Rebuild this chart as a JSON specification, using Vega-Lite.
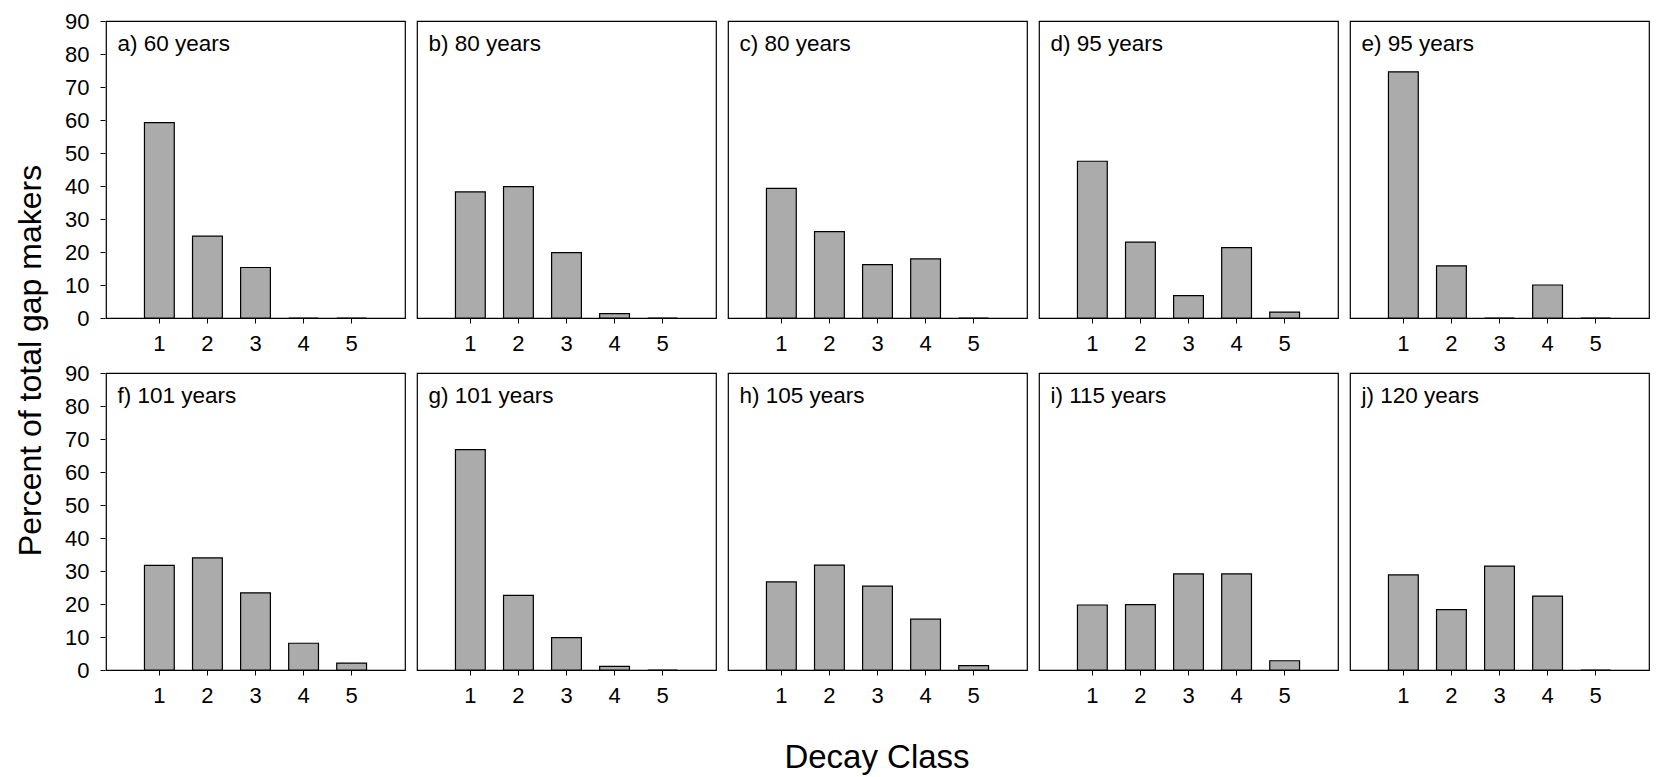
{
  "$schema": "https://vega.github.io/schema/vega-lite/v6.json",
  "background": "white",
  "padding": {"left": 14, "top": 10, "right": 2, "bottom": 1},
  "data": {
    "values": [
      {"panel": "a) 60 years", "decay": "1", "pct": 59.2},
      {"panel": "a) 60 years", "decay": "2", "pct": 24.8},
      {"panel": "a) 60 years", "decay": "3", "pct": 15.3},
      {"panel": "a) 60 years", "decay": "4", "pct": 0},
      {"panel": "a) 60 years", "decay": "5", "pct": 0},
      {"panel": "b) 80 years", "decay": "1", "pct": 38.2},
      {"panel": "b) 80 years", "decay": "2", "pct": 39.8},
      {"panel": "b) 80 years", "decay": "3", "pct": 19.8},
      {"panel": "b) 80 years", "decay": "4", "pct": 1.3},
      {"panel": "b) 80 years", "decay": "5", "pct": 0},
      {"panel": "c) 80 years", "decay": "1", "pct": 39.3},
      {"panel": "c) 80 years", "decay": "2", "pct": 26.2},
      {"panel": "c) 80 years", "decay": "3", "pct": 16.2},
      {"panel": "c) 80 years", "decay": "4", "pct": 17.9},
      {"panel": "c) 80 years", "decay": "5", "pct": 0},
      {"panel": "d) 95 years", "decay": "1", "pct": 47.5},
      {"panel": "d) 95 years", "decay": "2", "pct": 23.0},
      {"panel": "d) 95 years", "decay": "3", "pct": 6.8},
      {"panel": "d) 95 years", "decay": "4", "pct": 21.3},
      {"panel": "d) 95 years", "decay": "5", "pct": 1.8},
      {"panel": "e) 95 years", "decay": "1", "pct": 74.6},
      {"panel": "e) 95 years", "decay": "2", "pct": 15.8},
      {"panel": "e) 95 years", "decay": "3", "pct": 0},
      {"panel": "e) 95 years", "decay": "4", "pct": 10.0},
      {"panel": "e) 95 years", "decay": "5", "pct": 0},
      {"panel": "f) 101 years", "decay": "1", "pct": 31.7},
      {"panel": "f) 101 years", "decay": "2", "pct": 34.0},
      {"panel": "f) 101 years", "decay": "3", "pct": 23.4},
      {"panel": "f) 101 years", "decay": "4", "pct": 8.1},
      {"panel": "f) 101 years", "decay": "5", "pct": 2.1},
      {"panel": "g) 101 years", "decay": "1", "pct": 66.8},
      {"panel": "g) 101 years", "decay": "2", "pct": 22.6},
      {"panel": "g) 101 years", "decay": "3", "pct": 9.8},
      {"panel": "g) 101 years", "decay": "4", "pct": 1.1},
      {"panel": "g) 101 years", "decay": "5", "pct": 0},
      {"panel": "h) 105 years", "decay": "1", "pct": 26.7},
      {"panel": "h) 105 years", "decay": "2", "pct": 31.8},
      {"panel": "h) 105 years", "decay": "3", "pct": 25.4},
      {"panel": "h) 105 years", "decay": "4", "pct": 15.4},
      {"panel": "h) 105 years", "decay": "5", "pct": 1.3},
      {"panel": "i) 115 years", "decay": "1", "pct": 19.7},
      {"panel": "i) 115 years", "decay": "2", "pct": 19.8},
      {"panel": "i) 115 years", "decay": "3", "pct": 29.1},
      {"panel": "i) 115 years", "decay": "4", "pct": 29.1},
      {"panel": "i) 115 years", "decay": "5", "pct": 2.8},
      {"panel": "j) 120 years", "decay": "1", "pct": 28.8},
      {"panel": "j) 120 years", "decay": "2", "pct": 18.3},
      {"panel": "j) 120 years", "decay": "3", "pct": 31.5},
      {"panel": "j) 120 years", "decay": "4", "pct": 22.4},
      {"panel": "j) 120 years", "decay": "5", "pct": 0}
    ]
  },
  "title": {
    "text": "Percent of total gap makers",
    "orient": "left",
    "anchor": "middle",
    "fontSize": 32,
    "fontWeight": "normal",
    "font": "Liberation Sans",
    "color": "black",
    "offset": 17,
    "dx": 32
  },
  "facet": {
    "field": "panel",
    "type": "nominal",
    "title": "Decay Class",
    "header": {
      "labelExpr": "''",
      "labelFontSize": 1,
      "labelPadding": 0,
      "titleOrient": "bottom",
      "titleFontSize": 33,
      "titleFont": "Liberation Sans",
      "titleFontWeight": "normal",
      "titleColor": "black",
      "titlePadding": 35
    }
  },
  "columns": 5,
  "spacing": {"column": 10, "row": 16},
  "spec": {
    "width": 299,
    "height": 297,
    "encoding": {
      "x": {
        "field": "decay",
        "type": "ordinal",
        "scale": {"paddingInner": 0.38, "paddingOuter": 0.8},
        "axis": {"title": null, "labelAngle": 0, "labelPadding": 10}
      },
      "y": {
        "field": "pct",
        "type": "quantitative",
        "scale": {"domain": [0, 90], "nice": false},
        "axis": {"title": null, "values": [0, 10, 20, 30, 40, 50, 60, 70, 80, 90], "labelPadding": 11}
      }
    },
    "layer": [
      {
        "mark": {"type": "bar", "fill": "#ababab", "stroke": "black", "strokeWidth": 1.2}
      },
      {
        "transform": [{"filter": "datum.decay == '1'"}],
        "mark": {
          "type": "text",
          "align": "left",
          "baseline": "top",
          "fontSize": 22.5,
          "font": "Liberation Sans",
          "color": "black",
          "dx": -27,
          "dy": 12
        },
        "encoding": {
          "x": {"datum": "1", "type": "ordinal", "bandPosition": 0},
          "y": {"datum": 90},
          "text": {"field": "panel"}
        }
      }
    ]
  },
  "resolve": {"axis": {"x": "independent"}},
  "config": {
    "font": "Liberation Sans",
    "view": {"stroke": "black", "strokeWidth": 1.2},
    "axis": {
      "domain": false,
      "grid": false,
      "ticks": true,
      "tickColor": "black",
      "tickSize": 5,
      "labelFontSize": 22,
      "labelColor": "black",
      "labelFont": "Liberation Sans"
    }
  }
}
